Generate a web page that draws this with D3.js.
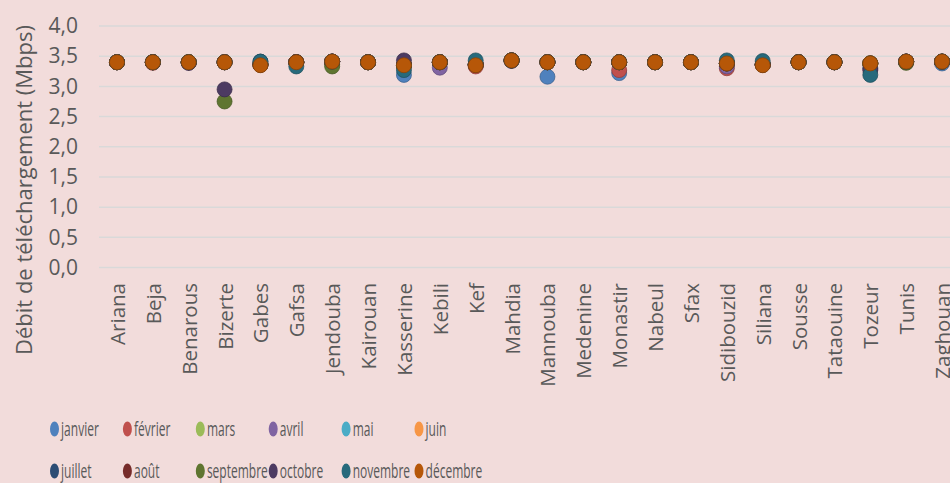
<!DOCTYPE html>
<html>
<head>
<meta charset="utf-8">
<script src="https://d3js.org/d3.v7.min.js"></script>
<style>
  body { margin: 0; background: #F2DCDB; }
  svg { display: block; font-family: "Open Sans", sans-serif; }
</style>
</head>
<body>
<svg width="950" height="483"></svg>
<script>
    var regions = ["Ariana", "Beja", "Benarous", "Bizerte", "Gabes", "Gafsa", "Jendouba", "Kairouan",
        "Kasserine", "Kebili", "Kef", "Mahdia", "Mannouba", "Medenine", "Monastir", "Nabeul", "Sfax",
        "Sidibouzid", "Siliana", "Sousse", "Tataouine", "Tozeur", "Tunis", "Zaghouan"];

    var mois = ["janvier", "février", "mars", "avril", "mai", "juin",
        "juillet", "août", "septembre", "octobre", "novembre", "décembre"];

    var couleurs = ["#4F81BD", "#C0504D", "#9BBB59", "#8064A2", "#4BACC6", "#F79646",
        "#2C4D75", "#772C2A", "#5F7530", "#4D3B62", "#276A7C", "#B65708"];

    var yTicks = [0, 0.5, 1, 1.5, 2, 2.5, 3, 3.5, 4];

    // debit en Mbps, une valeur par region
    var janvier   = [3.40,3.40,3.40,3.40,3.36,3.40,3.41,3.40,3.19,3.40,3.36,3.43,3.16,3.40,3.22,3.40,3.40,3.38,3.36,3.40,3.40,3.38,3.41,3.38];
    var fevrier   = [3.40,3.39,3.40,3.40,3.36,3.40,3.41,3.40,3.35,3.40,3.33,3.43,3.40,3.40,3.27,3.40,3.40,3.30,3.36,3.40,3.40,3.38,3.41,3.41];
    var mars      = [3.40,3.40,3.40,3.40,3.36,3.40,3.36,3.40,3.35,3.40,3.36,3.43,3.40,3.40,3.40,3.40,3.40,3.38,3.36,3.40,3.40,3.38,3.40,3.41];
    var avril     = [3.40,3.40,3.39,3.40,3.36,3.40,3.41,3.40,3.35,3.31,3.36,3.42,3.40,3.40,3.40,3.40,3.40,3.33,3.36,3.40,3.40,3.38,3.41,3.41];
    var mai       = [3.40,3.40,3.40,3.40,3.36,3.40,3.41,3.40,3.35,3.40,3.36,3.43,3.40,3.40,3.40,3.40,3.40,3.38,3.36,3.40,3.40,3.38,3.41,3.41];
    var juin      = [3.40,3.40,3.40,3.40,3.36,3.40,3.41,3.40,3.35,3.40,3.36,3.43,3.40,3.40,3.40,3.40,3.40,3.38,3.36,3.40,3.40,3.38,3.41,3.41];
    var juillet   = [3.40,3.40,3.40,3.40,3.41,3.40,3.41,3.40,3.35,3.40,3.36,3.43,3.40,3.40,3.40,3.40,3.40,3.38,3.36,3.40,3.40,3.30,3.41,3.41];
    var aout      = [3.40,3.40,3.40,3.40,3.36,3.40,3.41,3.40,3.35,3.40,3.36,3.43,3.40,3.40,3.40,3.40,3.40,3.38,3.36,3.40,3.40,3.38,3.41,3.41];
    var septembre = [3.40,3.40,3.40,2.75,3.36,3.40,3.33,3.40,3.35,3.40,3.36,3.43,3.40,3.40,3.40,3.40,3.40,3.38,3.36,3.40,3.40,3.38,3.39,3.41];
    var octobre   = [3.40,3.40,3.39,2.95,3.36,3.40,3.41,3.40,3.43,3.40,3.36,3.43,3.40,3.40,3.40,3.40,3.40,3.38,3.36,3.40,3.40,3.27,3.41,3.41];
    var novembre  = [3.40,3.40,3.40,3.40,3.41,3.33,3.41,3.40,3.27,3.40,3.43,3.43,3.40,3.40,3.40,3.40,3.40,3.43,3.42,3.40,3.40,3.19,3.41,3.41];
    var decembre  = [3.40,3.40,3.40,3.40,3.35,3.40,3.41,3.40,3.35,3.40,3.35,3.43,3.40,3.40,3.40,3.40,3.40,3.38,3.35,3.40,3.40,3.38,3.41,3.41];

    var series = [janvier, fevrier, mars, avril, mai, juin, juillet, aout, septembre, octobre, novembre, decembre];

    var svg = d3.select("svg");
    var textColor = "#595959";

    svg.append("rect")
        .attr("width", 950)
        .attr("height", 483)
        .attr("fill", "#F2DCDB");

    var x = d3.scaleBand().domain(regions).range([99, 960]);
    var y = d3.scaleLinear().domain([0, 4]).range([267.5, 26]);

    // grille horizontale
    svg.append("g")
        .selectAll("line")
        .data(yTicks)
        .enter()
        .append("line")
        .attr("x1", 99)
        .attr("x2", 960)
        .attr("y1", function(d) { return y(d); })
        .attr("y2", function(d) { return y(d); })
        .attr("stroke", "#D9D9D9")
        .attr("stroke-width", 1.5);

    // axe Y
    var yAxis = svg.append("g")
        .attr("transform", "translate(78,0)")
        .call(d3.axisLeft(y).tickValues(yTicks).tickSize(0).tickPadding(0)
            .tickFormat(function(d) { return d3.format(".1f")(d).replace(".", ","); }));
    yAxis.select(".domain").remove();
    yAxis.selectAll("text")
        .attr("fill", textColor)
        .style("font-size", "21px")
        .style("font-family", "Open Sans");

    svg.append("text")
        .attr("transform", "translate(32,190) rotate(-90)")
        .attr("text-anchor", "middle")
        .attr("fill", textColor)
        .style("font-size", "22px")
        .text("Débit de téléchargement (Mbps)");

    // axe X (etiquettes verticales)
    svg.append("g")
        .selectAll("text")
        .data(regions)
        .enter()
        .append("text")
        .attr("transform", function(d) {
            return "translate(" + (x(d) + x.bandwidth() / 2 + 8) + ",283) rotate(-90)";
        })
        .attr("text-anchor", "end")
        .attr("fill", textColor)
        .style("font-size", "20.5px")
        .text(function(d) { return d; });

    // points, decembre dessine en dernier
    series.forEach(function(vals, s) {
        svg.append("g")
            .selectAll("circle")
            .data(vals)
            .enter()
            .append("circle")
            .attr("cx", function(d, i) { return x(regions[i]) + x.bandwidth() / 2; })
            .attr("cy", function(d) { return y(d); })
            .attr("r", 7.5)
            .attr("fill", couleurs[s])
            .attr("stroke", d3.color(couleurs[s]).darker(0.8))
            .attr("stroke-width", 0.75);
    });

    // legende
    var legend = svg.append("g")
        .selectAll("g")
        .data(mois)
        .enter()
        .append("g")
        .attr("transform", function(d, i) {
            return "translate(" + (54.5 + (i % 6) * 72.9) + "," + (i < 6 ? 429 : 471) + ") scale(0.6,1)";
        });
    legend.append("circle")
        .attr("r", 7.5)
        .attr("fill", function(d, i) { return couleurs[i]; });
    legend.append("text")
        .attr("x", 11)
        .attr("dy", "0.35em")
        .attr("fill", textColor)
        .style("font-size", "20px")
        .text(function(d) { return d; });
</script>
</body>
</html>
